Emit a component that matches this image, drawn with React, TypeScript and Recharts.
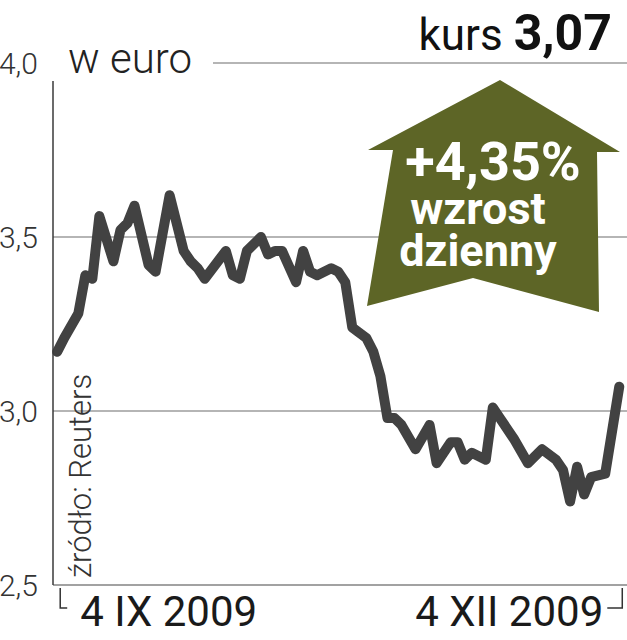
import { LineChart, Line, XAxis, YAxis, CartesianGrid } from "recharts";

// trading day index (from late Aug 2009) and EUR close
const days = [
  0, 1, 3, 4, 5, 6, 8, 9, 10, 11, 13, 14, 16, 18, 19, 20, 21, 24, 25, 26,
  27, 29, 30, 31, 32, 34, 35, 36, 37, 39, 40, 41, 42, 44, 45, 46, 47, 48, 49, 51,
  53, 54, 56, 57, 58, 59, 61, 62, 63, 65, 67, 69, 71, 72, 73, 74, 75, 76, 78, 80,
];
const kurs = [
  3.17, 3.21, 3.28, 3.39, 3.38, 3.56, 3.43, 3.52, 3.54, 3.59, 3.42, 3.4, 3.62, 3.46, 3.43, 3.41, 3.38, 3.46, 3.39, 3.38,
  3.46, 3.5, 3.45, 3.46, 3.46, 3.37, 3.46, 3.4, 3.39, 3.41, 3.4, 3.37, 3.24, 3.21, 3.17, 3.1, 2.98, 2.98, 2.96, 2.89,
  2.96, 2.85, 2.91, 2.91, 2.86, 2.88, 2.86, 3.01, 2.98, 2.92, 2.85, 2.89, 2.86, 2.83, 2.74, 2.84, 2.76, 2.81, 2.82, 3.07,
];
const yTicks = [2.5, 3.0, 3.5, 4.0];
const xTicks = [0, 80];
const xLabels = ["4 IX 2009", "4 XII 2009"];

const data = days.map((d, i) => ({ day: d, v: kurs[i] }));

const FONT = "Roboto, 'DejaVu Sans', sans-serif";

const YTick = (props: any) => {
  const { x, y, payload } = props;
  return (
    <text x={x - 7} y={y + 11} textAnchor="end" fontSize={30} fontWeight={300} fill="#333" fontFamily={FONT}>
      {payload.value.toFixed(1).replace(".", ",")}
    </text>
  );
};

const XTick = (props: any) => {
  const { x, y, index } = props;
  const top = y - 5;
  if (index === 0) {
    return (
      <g>
        <path d={`M${x + 3},${top} V${top + 20} H${x + 10}`} stroke="#333" strokeWidth={1.5} fill="none" />
        <text x={x + 23} y={y + 33} fontSize={42} fontWeight={400} fill="#1a1a1a" fontFamily={FONT}>
          {xLabels[0]}
        </text>
      </g>
    );
  }
  return (
    <g>
      <path d={`M${x - 12},${top + 20} H${x + 3} V${top}`} stroke="#333" strokeWidth={1.5} fill="none" />
      <text x={x - 16} y={y + 33} textAnchor="end" fontSize={42} fontWeight={400} fill="#1a1a1a" fontFamily={FONT}>
        {xLabels[1]}
      </text>
    </g>
  );
};

export default function App() {
  return (
    <div style={{ position: "absolute", left: 0, top: 0, width: 627, height: 640, background: "#fff" }}>
      <LineChart width={627} height={640} data={data} margin={{ top: 63, right: 0, bottom: 0, left: 0 }}>
        <CartesianGrid vertical={false} stroke="#9c9c9c" strokeWidth={1.5} />
        <XAxis
          type="number"
          dataKey="day"
          domain={[-0.6, 81.1]}
          ticks={xTicks}
          tick={<XTick />}
          tickLine={false}
          axisLine={{ stroke: "#9c9c9c", strokeWidth: 1.5 }}
          height={55}
          interval={0}
        />
        <YAxis
          type="number"
          domain={[2.5, 4.0]}
          ticks={yTicks}
          tick={<YTick />}
          tickLine={false}
          axisLine={{ stroke: "#3a3a3a", strokeWidth: 1.5 }}
          width={53}
          interval={0}
        />
        <Line
          type="linear"
          dataKey="v"
          stroke="#424242"
          strokeWidth={10}
          strokeLinejoin="round"
          strokeLinecap="round"
          dot={false}
          activeDot={false}
          isAnimationActive={false}
        />
      </LineChart>
      <svg width={627} height={640} style={{ position: "absolute", left: 0, top: 0, pointerEvents: "none" }}>
        {/* cut the top gridline and axis behind the unit label */}
        <rect x={46} y={48} width={167} height={33} fill="#fff" />
        <text x={68} y={73} fontSize={42} fontWeight={300} fill="#222" fontFamily={FONT}>
          w euro
        </text>
        <text x={612} y={50} textAnchor="end" fill="#111" fontFamily={FONT}>
          <tspan fontSize={44} fontWeight={400}>kurs </tspan>
          <tspan fontSize={50} fontWeight={700}>3,07</tspan>
        </text>
        <polygon
          points="500,80 620,152 597,152 599,312 473,278 367,306 393,150 368,150"
          fill="#5d6526"
        />
        <text x={493} y={180} textAnchor="middle" fontSize={54} fontWeight={700} fill="#fff" fontFamily={FONT}>
          +4,35%
        </text>
        <text x={478} y={224} textAnchor="middle" fontSize={45} fontWeight={700} fill="#fff" fontFamily={FONT}>
          wzrost
        </text>
        <text x={478} y={266} textAnchor="middle" fontSize={45} fontWeight={700} fill="#fff" fontFamily={FONT}>
          dzienny
        </text>
        <text
          x={91}
          y={578}
          transform="rotate(-90 91 578)"
          fontSize={31}
          fontWeight={300}
          fill="#333"
          fontFamily={FONT}
        >
          źródło: Reuters
        </text>
      </svg>
    </div>
  );
}
